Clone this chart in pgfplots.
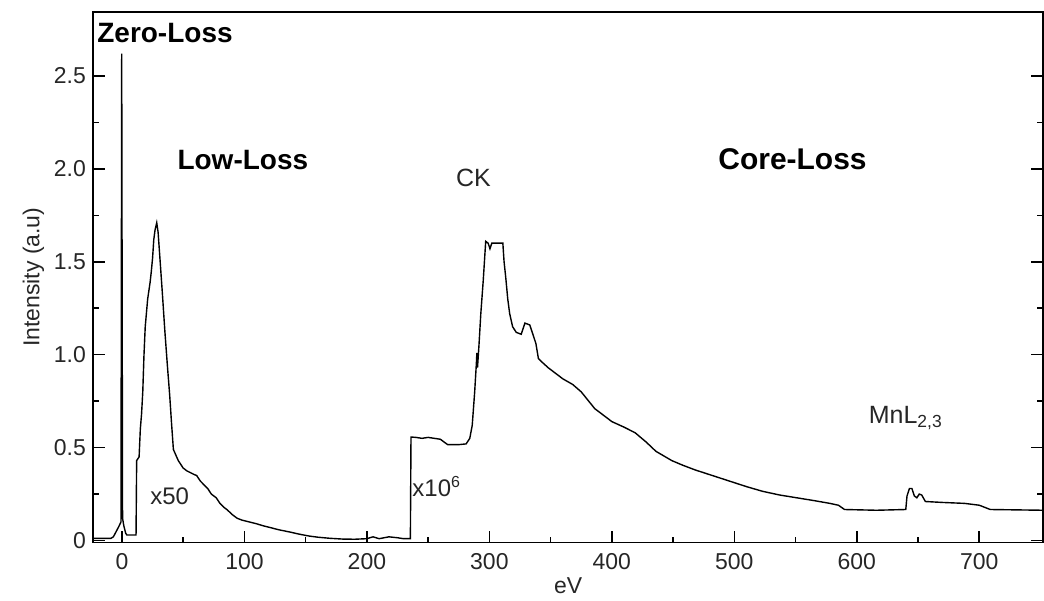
\documentclass[border=0pt]{standalone}
\usepackage{fontspec}
\setmainfont{Liberation Sans}
\usepackage{pgfplots}
\pgfplotsset{compat=1.18}
\usetikzlibrary{calc}
\begin{document}
\begin{tikzpicture}
\begin{axis}[
  name=ax,
  scale only axis,
  width=475.5pt, height=265.5pt,
  xmin=-23.7, xmax=752.2,
  ymin=-0.011, ymax=2.844,
  axis line style={line width=0.9pt, black},
  xtick={0,100,200,300,400,500,600,700},
  ytick={0,0.5,1.0,1.5,2.0,2.5},
  yticklabels={0,0.5,1.0,1.5,2.0,2.5},
  minor x tick num=1,
  minor y tick num=1,
  tick align=inside,
  xtick pos=lower,
  ytick pos=both,
  major tick length=6pt,
  minor tick length=3pt,
  every tick/.style={black, line width=0.8pt},
  /pgf/number format/assume math mode=true,
  tick label style={font=\fontsize{11.5}{13}\selectfont, text=black!85},
  xticklabel style={yshift=-2pt},
  xlabel={eV},
  ylabel={Intensity (a.u)},
  label style={font=\fontsize{11.5}{13}\selectfont, text=black!85},
  xlabel style={yshift=3pt},
  ylabel style={yshift=-2pt},
  clip=true,
]
\addplot[black, line width=0.7pt] coordinates {
(-24,0.012) (-9,0.012) (-7,0.02) (-5,0.045) (-3,0.07) (-1.5,0.09) (-0.8,0.1)
(-0.2,2.62) (0.5,0.12) (1.5,0.08) (3,0.04) (4,0.03) (11.5,0.03)
(12,0.43) (14,0.45) (15,0.6) (16,0.68) (17,0.8) (18,1.0) (19,1.15)
(21,1.3) (23,1.39) (24,1.45) (25,1.52) (26,1.62) (27,1.67) (28.4,1.71) (29.5,1.66)
(31,1.52) (33,1.33) (35,1.13) (37,0.95) (39,0.78) (40.5,0.63) (42,0.49)
(44,0.46) (46,0.43) (48,0.41) (50,0.39) (53,0.375) (56,0.365) (59,0.355) (61,0.35)
(64,0.32) (67,0.3) (70,0.28) (73,0.25) (77,0.23) (80,0.2) (83,0.18) (86,0.165)
(90,0.14) (94,0.12) (98,0.11) (104,0.1) (110,0.09) (115,0.08) (121,0.07)
(128,0.058) (137,0.046) (145,0.034) (153,0.024) (160,0.018) (170,0.012)
(180,0.008) (190,0.007) (200,0.01) (205,0.02) (210,0.01) (218,0.02) (225,0.015)
(230,0.01) (235.5,0.01)
(236,0.557) (240,0.555) (245,0.55) (250,0.555) (255,0.55) (260,0.545) (263,0.53)
(266,0.516) (275,0.516) (281,0.52) (284,0.55) (286,0.62) (288,0.8) (289.4,0.955)
(289.8,1.01) (290.3,0.93) (291.5,1.05) (293,1.22) (295,1.4) (297,1.61) (299,1.6)
(300.5,1.57) (302,1.60) (306,1.60) (311,1.60) (312,1.5) (313.3,1.42) (315,1.3)
(316.6,1.22) (319,1.15) (322,1.12) (326,1.11) (329,1.17) (333,1.16) (336,1.1)
(338,1.06) (340,0.98) (343,0.96) (348,0.93) (354,0.9) (360,0.87) (368,0.84)
(375,0.8) (386,0.71) (400,0.64) (410,0.61) (419,0.58) (428,0.53) (436,0.48)
(449,0.43) (458,0.405) (468,0.38) (482,0.35) (496,0.32) (510,0.29) (523,0.265)
(537,0.245) (551,0.23) (565,0.215) (578,0.2) (585,0.19) (590,0.167) (616,0.163)
(640,0.167) (641,0.24) (643,0.28) (645,0.28) (647,0.24) (649,0.23) (651,0.25)
(653,0.245) (656,0.21) (670,0.205) (688,0.2) (700,0.19) (709,0.167) (752,0.163)
};
\node[anchor=west, font=\fontsize{14}{16}\selectfont\bfseries, inner sep=0pt] at (axis cs:-20.4,2.73) {Zero-Loss};
\node[font=\fontsize{14}{16}\selectfont\bfseries] at (axis cs:98.7,2.05) {Low-Loss};
\node[font=\fontsize{15}{17}\selectfont\bfseries] at (axis cs:547.5,2.05) {Core-Loss};
\node[font=\fontsize{12.5}{14}\selectfont, text=black!85] at (axis cs:287,1.95) {CK};
\node[font=\fontsize{12}{14}\selectfont, text=black!85] at (axis cs:39,0.237) {x50};
\node[font=\fontsize{12}{14}\selectfont, text=black!85] at (axis cs:257,0.29) {x10\textsuperscript{6}};
\node[font=\fontsize{12.5}{14}\selectfont, text=black!85] at (axis cs:640,0.66) {MnL\textsubscript{2,3}};
\end{axis}
\pgfresetboundingbox
\path[use as bounding box] ($(ax.south west)+(-46.5pt,-29pt)$) rectangle ($(ax.north east)+(0.4pt,6pt)$);
\end{tikzpicture}
\end{document}
